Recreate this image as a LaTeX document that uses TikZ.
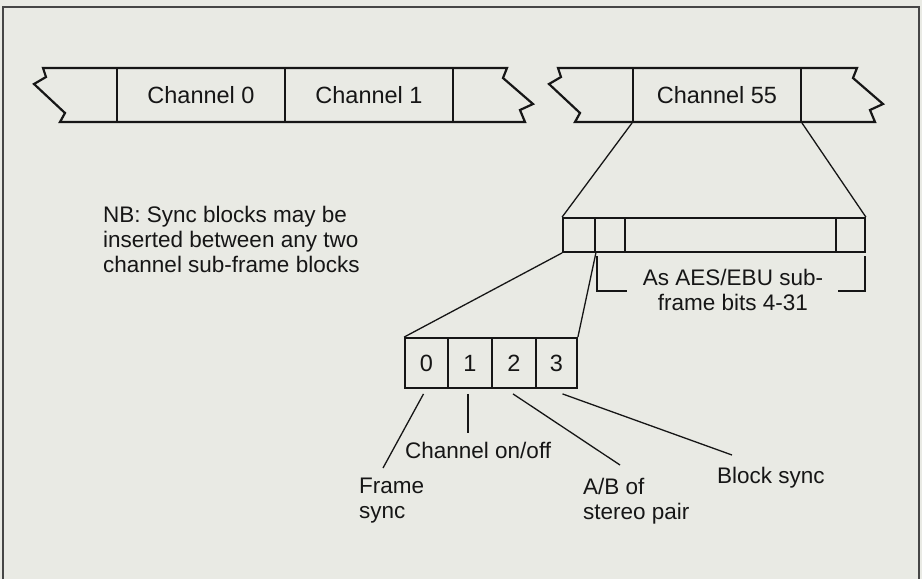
\documentclass[tikz,border=0pt]{standalone}
\usepackage{fontspec}
\setmainfont{Liberation Sans}
\usetikzlibrary{calc}
\definecolor{bg}{RGB}{233,234,228}
\definecolor{ink}{RGB}{22,22,22}
\definecolor{frm}{RGB}{70,70,70}
\begin{document}
\begin{tikzpicture}[x=1pt,y=-1pt, line join=miter,
  every node/.style={font=\fontsize{22.5}{25}\selectfont, text=ink},
  cell/.style={draw=ink, line width=2pt, inner sep=0pt, minimum height=54pt, font=\fontsize{23.5}{26}\selectfont},
  sub/.style={draw=ink, line width=1.8pt, inner sep=0pt, minimum height=34pt},
  bit/.style={draw=ink, line width=1.8pt, inner sep=0pt, minimum height=50pt, font=\fontsize{23.5}{26}\selectfont},
  strip/.style={draw=ink, line width=2.2pt},
  lead/.style={draw=ink, line width=1.3pt},
  lbl/.style={align=left, inner sep=0pt, anchor=north west}]
\fill[bg] (0,0) rectangle (922,579);
\useasboundingbox (0,0) rectangle (922,579);
\draw[frm, line width=1.2pt] (3,579) -- (3,7) -- (919,7) -- (919,579);

% left strip
\draw[strip] (43,68) -- (507,68) -- (503,78) -- (533,104) -- (520,110) -- (525,122)
  -- (60,122) -- (65,113) -- (34,84) -- (46,77) -- cycle;
\node[cell, minimum width=168pt] (ch0) at (201,95) {Channel 0};
\node[cell, minimum width=168pt] (ch1) at (369,95) {Channel 1};

% right strip
\draw[strip] (558,68) -- (857,68) -- (853,78) -- (883,104) -- (870,110) -- (875,122)
  -- (575,122) -- (580,113) -- (549,84) -- (561,77) -- cycle;
\node[cell, minimum width=168pt] (ch55) at (717,95) {Channel 55};

% sub-frame
\node[sub, minimum width=32pt] (sf0) at (579,235) {};
\node[sub, minimum width=30pt] (sf1) at (610,235) {};
\node[sub, minimum width=211pt] (sf2) at (730.5,235) {};
\node[sub, minimum width=29pt] (sf3) at (850.5,235) {};

\draw[lead] (ch55.south west) -- (sf0.north west);
\draw[lead] (ch55.south east) -- (sf3.north east);

% bracket
\draw[lead] (597,256) -- (597,291) -- (627,291);
\draw[lead] (838,291) -- (865,291) -- (865,256);
\node[align=center, inner sep=0pt] (aes) at (733,290) {As AES/EBU sub-\\frame bits 4-31};

% NB text
\node[lbl] (nb) at (103,206) {NB: Sync blocks may be\\inserted between any two\\channel sub-frame blocks};

% bits
\node[bit, minimum width=43pt] (b0) at (426.5,363) {0};
\node[bit, minimum width=44pt] (b1) at (470,363) {1};
\node[bit, minimum width=44pt] (b2) at (514,363) {2};
\node[bit, minimum width=41pt] (b3) at (556.5,363) {3};

\draw[lead] (sf0.south west) -- (b0.north west);
\draw[lead] (sf0.south east) -- (b3.north east);

% callouts
\coordinate (fsEnd) at (383,468);
\coordinate (coEnd) at (468,433);
\coordinate (abEnd) at (620,465);
\coordinate (bsEnd) at (732,455);
\draw[lead] ([xshift=-3pt,yshift=-5pt]b0.south) -- (fsEnd);
\draw[lead] ([xshift=-2pt,yshift=-5pt]b1.south) -- (coEnd);
\draw[lead] ([xshift=-1pt,yshift=-5pt]b2.south) -- (abEnd);
\draw[lead] ([xshift=6pt,yshift=-5pt]b3.south) -- (bsEnd);
\node[lbl] (fs) at (359,478) {Frame\\sync};
\node[lbl] (co) at (405,442) {Channel on/off};
\node[lbl] (ab) at (583,478) {A/B of\\stereo pair};
\node[lbl] (bs) at (717,467) {Block sync};
\end{tikzpicture}
\end{document}
